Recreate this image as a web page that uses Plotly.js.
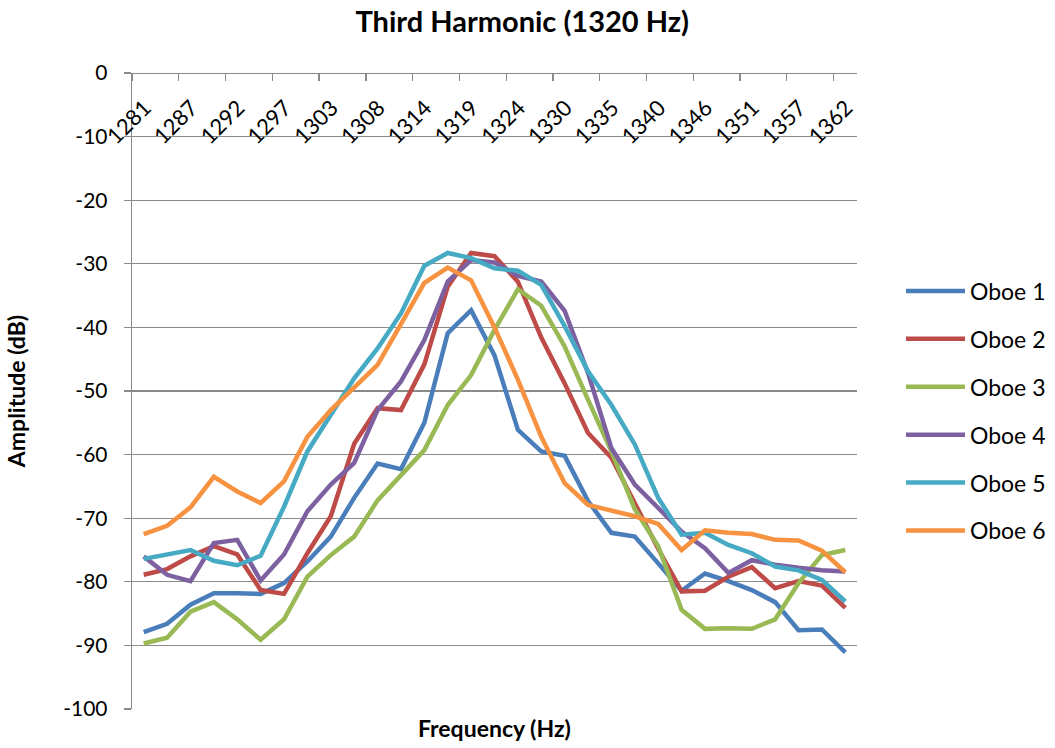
<!DOCTYPE html>
<html>
<head>
<meta charset="utf-8">
<script src="https://cdn.plot.ly/plotly-3.0.1.min.js"></script>
<style>html,body{margin:0;padding:0;background:#fff;}#chart{width:1055px;height:748px;}</style>
</head>
<body>
<div id="chart"></div>
<script>
// Frequency bins (Hz)
const frequencies = ["1281","1284","1287","1289","1292","1295","1297","1300","1303","1305","1308","1311","1314","1316","1319","1322","1324","1327","1330","1332","1335","1338","1340","1343","1346","1349","1351","1354","1357","1359","1362"];

const seriesNames = ["Oboe 1","Oboe 2","Oboe 3","Oboe 4","Oboe 5","Oboe 6"];

const oboe1 = [-87.9,-86.6,-83.6,-81.8,-81.8,-81.9,-80.2,-76.8,-72.9,-66.8,-61.4,-62.3,-55.0,-40.9,-37.3,-44.4,-56.1,-59.5,-60.2,-67.3,-72.3,-72.9,-77.1,-81.4,-78.7,-79.9,-81.3,-83.2,-87.6,-87.5,-91.1];
const oboe2 = [-78.9,-78.0,-76.0,-74.4,-75.7,-81.3,-81.9,-75.5,-69.7,-58.3,-52.7,-53.0,-45.8,-33.6,-28.3,-28.8,-32.8,-41.6,-48.8,-56.6,-60.5,-67.8,-74.8,-81.5,-81.4,-79.2,-77.7,-81.0,-79.9,-80.6,-84.1];
const oboe3 = [-89.7,-88.8,-84.7,-83.2,-85.9,-89.1,-85.9,-79.2,-75.8,-72.9,-67.2,-63.2,-59.3,-52.2,-47.5,-40.4,-34.0,-36.6,-43.0,-51.4,-59.5,-68.6,-74.4,-84.4,-87.4,-87.3,-87.4,-85.9,-80.2,-75.8,-75.0];
const oboe4 = [-76.0,-78.9,-79.9,-73.9,-73.4,-79.8,-75.7,-68.9,-64.7,-61.3,-53.0,-48.5,-42.0,-32.8,-29.4,-29.8,-31.9,-32.8,-37.4,-47.2,-59.0,-64.7,-68.4,-72.1,-74.7,-78.6,-76.6,-77.3,-77.8,-78.2,-78.4];
const oboe5 = [-76.4,-75.7,-75.0,-76.7,-77.4,-75.9,-68.2,-59.5,-53.8,-48.0,-43.3,-37.8,-30.3,-28.3,-29.1,-30.7,-31.1,-33.3,-39.8,-46.9,-52.2,-58.4,-66.8,-72.6,-72.3,-74.2,-75.5,-77.6,-78.2,-79.7,-83.1];
const oboe6 = [-72.5,-71.2,-68.3,-63.5,-65.8,-67.6,-64.2,-57.2,-53.0,-49.4,-45.9,-39.5,-33.0,-30.6,-32.6,-40.0,-48.2,-57.2,-64.5,-67.9,-68.8,-69.7,-70.9,-75.0,-71.9,-72.3,-72.5,-73.4,-73.5,-75.1,-78.5];

// Y-axis tick values (dB)
const yTickValues = [0,-10,-20,-30,-40,-50,-60,-70,-80,-90,-100];

const seriesValues = [oboe1, oboe2, oboe3, oboe4, oboe5, oboe6];
const seriesColors = ["#4A7EBB","#BE4B48","#98B954","#7D60A0","#46AAC5","#F69240"];

const FONT = "Lato, 'Liberation Sans', sans-serif";
const GRID = "#8a8a8a";

const traces = seriesValues.map((vals, k) => ({
  type: "scatter",
  mode: "lines",
  name: seriesNames[k],
  legendgroup: "g" + k,
  x: frequencies,
  y: vals,
  line: {color: seriesColors[k], width: 4.5}
}));

const layout = {
  width: 1055,
  height: 748,
  paper_bgcolor: "#fff",
  plot_bgcolor: "#fff",
  margin: {l: 132, r: 198, t: 73, b: 39},
  font: {family: FONT, size: 22, color: "#000"},
  title: {
    text: "<b>Third Harmonic (1320 Hz)</b>",
    font: {family: FONT, size: 29, color: "#000"},
    xref: "container", x: 0.495, xanchor: "center",
    yref: "container", y: 1 - 22/748, yanchor: "middle"
  },
  xaxis: {
    type: "category",
    anchor: "free",
    position: 1,
    side: "bottom",
    automargin: false,
    tickson: "boundaries",
    tickmode: "linear",
    tick0: 0,
    dtick: 2,
    tickangle: -45,
    ticks: "outside",
    ticklen: 7,
    tickcolor: GRID,
    tickwidth: 1.3,
    ticklabelshift: 1,
    ticklabelstandoff: 12,
    showline: true,
    linecolor: GRID,
    linewidth: 1.3,
    showgrid: false,
    zeroline: false,
    tickfont: {family: FONT, size: 22, color: "#000"},
    range: [-0.5, frequencies.length - 0.5]
  },
  yaxis: {
    range: [-100, 0],
    automargin: false,
    tickmode: "array",
    tickvals: yTickValues,
    ticktext: yTickValues.map(v => String(v)),
    ticks: "outside",
    ticklen: 7,
    tickcolor: GRID,
    tickwidth: 1.3,
    ticklabelstandoff: 12,
    showline: true,
    linecolor: GRID,
    linewidth: 1.3,
    showgrid: true,
    gridcolor: GRID,
    gridwidth: 1.3,
    zeroline: false,
    tickfont: {family: FONT, size: 21, color: "#000"},
    title: {text: "<b>Amplitude (dB)</b>", font: {family: FONT, size: 23, color: "#000"}, standoff: 31}
  },
  legend: {
    xref: "container",
    yref: "container",
    x: 901 / 1055,
    xanchor: "left",
    y: 1 - 411 / 748,
    yanchor: "middle",
    traceorder: "grouped",
    tracegroupgap: 15,
    itemwidth: 59,
    font: {family: FONT, size: 23, color: "#000"},
    bgcolor: "rgba(0,0,0,0)",
    borderwidth: 0
  },
  annotations: [{
    text: "<b>Frequency (Hz)</b>",
    xref: "paper", x: 0.5, xanchor: "center",
    yref: "paper", y: 0, yanchor: "top", yshift: -3,
    showarrow: false,
    font: {family: FONT, size: 23, color: "#000"}
  }],
  showlegend: true
};

Plotly.newPlot("chart", traces, layout, {displayModeBar: false, staticPlot: true});
</script>
</body>
</html>
